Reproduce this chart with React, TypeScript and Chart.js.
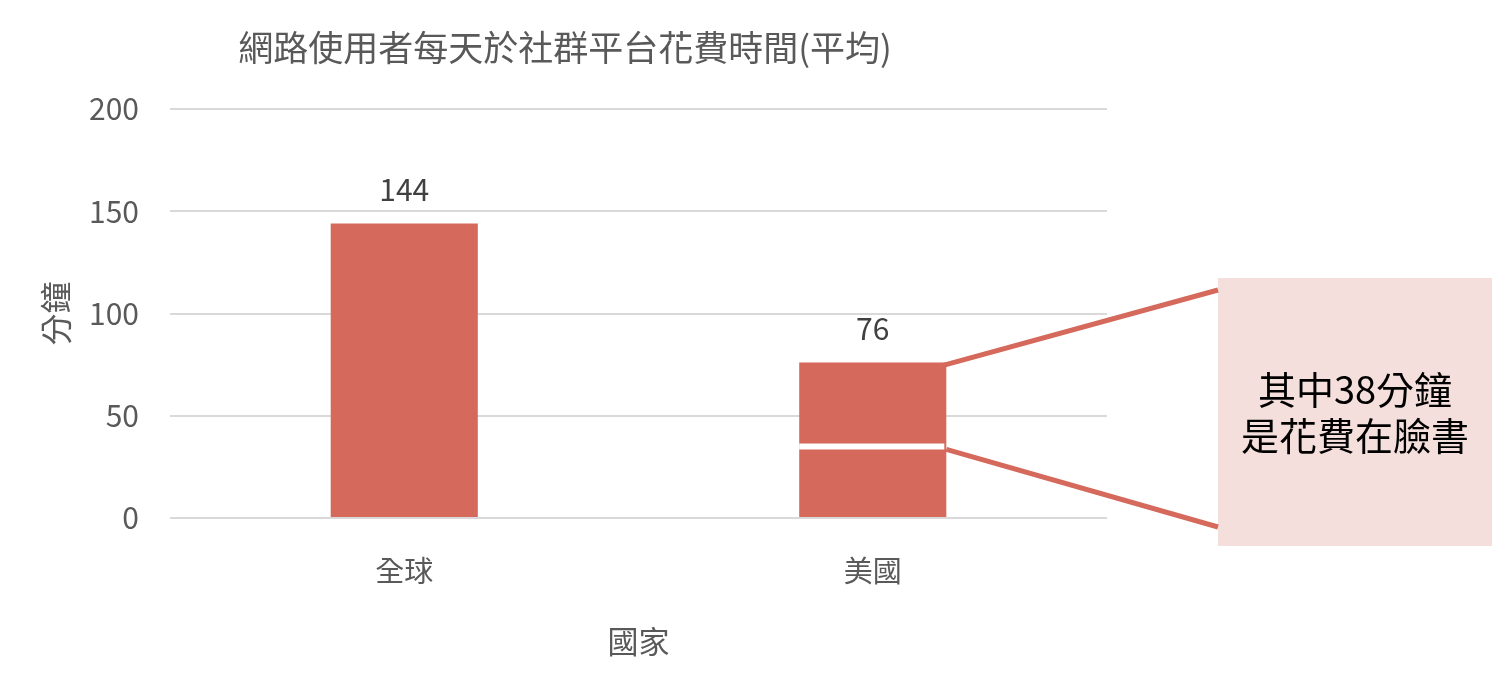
import React, { useEffect, useRef } from "react";
import { Chart, registerables } from "chart.js";

Chart.register(...registerables);

const chartTitle = "網路使用者每天於社群平台花費時間(平均)";
const categories = ["全球", "美國"];
const minutesPerDay = [144, 76];
const facebookMinutes = 35; // position of the white divider in the 美國 bar
const calloutLines = ["其中38分鐘", "是花費在臉書"];
const yAxisTitle = "分鐘";
const xAxisTitle = "國家";
const yTickValues = [0, 50, 100, 150, 200];

const FONT = '"Noto Sans CJK TC", "Noto Sans", sans-serif';
const BAR_COLOR = "#D5695B";
const GRID_COLOR = "#D9D9D9";
const AXIS_TEXT = "#595959";

const overlayPlugin = {
  id: "overlay",
  afterDatasetsDraw(chart: any) {
    const { ctx, scales } = chart;
    const y = scales.y;
    const meta = chart.getDatasetMeta(0);
    ctx.save();

    // title
    ctx.fillStyle = AXIS_TEXT;
    ctx.font = `35px ${FONT}`;
    ctx.textAlign = "center";
    ctx.textBaseline = "middle";
    ctx.fillText(chartTitle, 565, 48);

    // data labels
    ctx.fillStyle = "#404040";
    ctx.font = `30px ${FONT}`;
    meta.data.forEach((bar: any, i: number) => {
      ctx.fillText(String(minutesPerDay[i]), bar.x, bar.y - 34);
    });

    // divider in the US bar
    const us = meta.data[1];
    const half = us.width / 2;
    const divY = y.getPixelForValue(facebookMinutes);
    ctx.strokeStyle = "#FFFFFF";
    ctx.lineWidth = 6;
    ctx.beginPath();
    ctx.moveTo(us.x - half, divY);
    ctx.lineTo(us.x + half - 2, divY);
    ctx.stroke();

    // callout box
    const boxL = 1218, boxT = 278, boxW = 274, boxH = 268;
    ctx.fillStyle = "#F5DFDD";
    ctx.fillRect(boxL, boxT, boxW, boxH);

    // callout connector lines
    ctx.strokeStyle = BAR_COLOR;
    ctx.lineWidth = 5;
    ctx.beginPath();
    ctx.moveTo(us.x + half - 4, us.y + 3);
    ctx.lineTo(boxL, boxT + 12);
    ctx.stroke();
    ctx.beginPath();
    ctx.moveTo(us.x + half, divY + 3);
    ctx.lineTo(boxL, boxT + boxH - 19);
    ctx.stroke();

    // callout text
    ctx.fillStyle = "#000000";
    ctx.font = `38px ${FONT}`;
    ctx.textAlign = "center";
    ctx.textBaseline = "middle";
    const cx = boxL + boxW / 2;
    const cy = 413;
    ctx.fillText(calloutLines[0], cx, cy - 23);
    ctx.fillText(calloutLines[1], cx, cy + 23);

    ctx.restore();
  },
};

export default function App() {
  const ref = useRef<HTMLCanvasElement>(null);
  useEffect(() => {
    if (!ref.current) return;
    const chart = new Chart(ref.current, {
      type: "bar",
      data: {
        labels: categories,
        datasets: [
          {
            data: minutesPerDay,
            backgroundColor: BAR_COLOR,
            borderWidth: 0,
            categoryPercentage: 1,
            barPercentage: 0.314,
          },
        ],
      },
      options: {
        animation: false,
        responsive: true,
        maintainAspectRatio: false,
        layout: { padding: { top: 109, right: 385, left: 0, bottom: 0 } },
        plugins: {
          legend: { display: false },
          tooltip: { enabled: false },
          title: { display: false },
        },
        scales: {
          x: {
            grid: { display: false, drawTicks: false },
            border: { display: false },
            ticks: {
              color: AXIS_TEXT,
              font: { family: FONT, size: 29 },
              padding: 36,
            },
            title: {
              display: true,
              text: xAxisTitle,
              color: AXIS_TEXT,
              font: { family: FONT, size: 31 },
              padding: { top: 0, bottom: 19 },
            },
            afterFit(scale: any) {
              scale.height = 161;
            },
          },
          y: {
            min: 0,
            max: 200,
            afterBuildTicks(scale: any) {
              scale.ticks = yTickValues.map((v) => ({ value: v }));
            },
            grid: { color: GRID_COLOR, lineWidth: 2, drawTicks: false },
            border: { display: false },
            ticks: {
              color: AXIS_TEXT,
              font: { family: FONT, size: 30 },
              padding: 31,
            },
            title: {
              display: true,
              text: yAxisTitle,
              color: AXIS_TEXT,
              font: { family: FONT, size: 32 },
              padding: { top: 37, bottom: 0 },
            },
            afterFit(scale: any) {
              scale.width = 170;
            },
          },
        },
      },
      plugins: [overlayPlugin],
    });
    return () => chart.destroy();
  }, []);
  return (
    <div style={{ position: "absolute", left: 0, top: 0, width: 1492, height: 679, background: "#fff" }}>
      <canvas ref={ref} />
    </div>
  );
}
